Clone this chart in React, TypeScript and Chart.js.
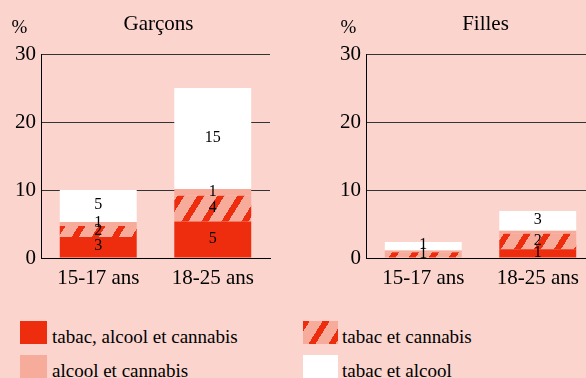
import React, { useEffect, useRef } from 'react';
import { Chart, registerables } from 'chart.js';

Chart.register(...registerables);

const categories = ['15-17 ans', '18-25 ans'];
const seriesNames = ['tabac, alcool et cannabis', 'tabac et cannabis', 'alcool et cannabis', 'tabac et alcool'];
const yTicks = [0, 10, 20, 30];

const garconsTabacAlcoolCannabis = [3.1, 5.35];
const garconsTabacCannabis = [1.6, 3.8];
const garconsAlcoolCannabis = [0.6, 1.0];
const garconsTabacAlcool = [4.7, 14.85];

const fillesTabacAlcoolCannabis = [0, 1.3];
const fillesTabacCannabis = [0.85, 2.25];
const fillesAlcoolCannabis = [0.25, 0.45];
const fillesTabacAlcool = [1.25, 2.9];

const BG = '#FAD4CD';
const RED = '#EE2D0F';
const PINK = '#F7AB9B';
const WHITE = '#FFFFFF';
const FONT = '"Liberation Serif", "Times New Roman", serif';

function makeHatchCanvas(): HTMLCanvasElement {
  const c = document.createElement('canvas');
  const W = 20, H = 32;
  c.width = W; c.height = H;
  const ctx = c.getContext('2d')!;
  ctx.fillStyle = PINK;
  ctx.fillRect(0, 0, W, H);
  ctx.fillStyle = RED;
  for (let y = 0; y < H; y++) {
    const x0 = Math.round((H - 1 - y) / 1.6);
    for (let dx = 0; dx < 7; dx++) {
      ctx.fillRect((x0 + dx) % W, y, 1, 1);
    }
  }
  return c;
}

const segLabels = {
  id: 'segLabels',
  afterDatasetsDraw(chart: any) {
    const ctx = chart.ctx;
    ctx.save();
    ctx.font = `16px ${FONT}`;
    ctx.fillStyle = '#000';
    ctx.textAlign = 'center';
    ctx.textBaseline = 'middle';
    chart.data.datasets.forEach((ds: any, i: number) => {
      const meta = chart.getDatasetMeta(i);
      meta.data.forEach((bar: any, j: number) => {
        const r = Math.round(ds.data[j]);
        if (!r) return;
        const p = bar.getProps(['x', 'y', 'base'], true);
        ctx.fillText(String(r), p.x, (p.y + p.base) / 2 - 1);
      });
    });
    ctx.restore();
  },
};

const panelText = {
  id: 'panelText',
  afterDraw(chart: any, _args: any, opts: any) {
    const ctx = chart.ctx;
    const a = chart.chartArea;
    ctx.save();
    ctx.fillStyle = '#000';
    ctx.textBaseline = 'alphabetic';
    ctx.textAlign = 'center';
    ctx.font = `21px ${FONT}`;
    ctx.fillText(opts.title, (a.left + a.right) / 2 + opts.titleShift, 30);
    ctx.font = `19px ${FONT}`;
    ctx.fillText('%', a.left - opts.pctOffset, 33);
    ctx.restore();
  },
};

function buildChart(canvas: HTMLCanvasElement, hatch: CanvasPattern, vals: number[][], title: string, axisWidth: number, padRight: number, pctOffset: number, titleShift: number) {
  const colors: any[] = [RED, hatch, PINK, WHITE];
  return new Chart(canvas, {
    type: 'bar',
    data: {
      labels: categories,
      datasets: vals.map((v, i) => ({
        label: seriesNames[i],
        data: v,
        backgroundColor: colors[i],
        borderWidth: 0,
        barPercentage: 0.672,
        categoryPercentage: 1,
      })),
    },
    options: {
      responsive: false,
      animation: false,
      devicePixelRatio: 1,
      layout: { padding: { top: 54, right: padRight, left: 0, bottom: 0 } },
      plugins: {
        legend: { display: false },
        tooltip: { enabled: false },
        title: { display: false },
        panelText: { title, pctOffset, titleShift },
      } as any,
      scales: {
        x: {
          stacked: true,
          grid: { display: false, drawTicks: false },
          border: { color: '#000', width: 1 },
          ticks: { font: { family: FONT, size: 21 }, color: '#000', padding: 8, maxRotation: 0, autoSkip: false },
          afterFit: (s: any) => { s.height = 32; },
        },
        y: {
          stacked: true,
          min: 0,
          max: 30,
          afterBuildTicks: (s: any) => { s.ticks = yTicks.map((v) => ({ value: v })); },
          grid: { color: '#333', drawTicks: false, lineWidth: 1 },
          border: { color: '#000', width: 1 },
          ticks: { font: { family: FONT, size: 21 }, color: '#000', padding: 5 },
          afterFit: (s: any) => { s.width = axisWidth; },
        },
      },
    } as any,
    plugins: [segLabels, panelText],
  });
}

export default function App() {
  const leftRef = useRef<HTMLCanvasElement>(null);
  const rightRef = useRef<HTMLCanvasElement>(null);
  const swatchRef = useRef<HTMLDivElement>(null);

  useEffect(() => {
    document.body.style.margin = '0';
    const hc = makeHatchCanvas();
    const pat = leftRef.current!.getContext('2d')!.createPattern(hc, 'repeat')!;
    const pat2 = rightRef.current!.getContext('2d')!.createPattern(hc, 'repeat')!;
    if (swatchRef.current) swatchRef.current.style.backgroundImage = `url(${hc.toDataURL()})`;
    const c1 = buildChart(leftRef.current!, pat, [garconsTabacAlcoolCannabis, garconsTabacCannabis, garconsAlcoolCannabis, garconsTabacAlcool], 'Garçons', 41, 20, 21.5, 3);
    const c2 = buildChart(rightRef.current!, pat2, [fillesTabacAlcoolCannabis, fillesTabacCannabis, fillesAlcoolCannabis, fillesTabacAlcool], 'Filles', 76, 15, 17.5, 5);
    return () => { c1.destroy(); c2.destroy(); };
  }, []);

  const text: React.CSSProperties = { position: 'absolute', fontFamily: FONT, fontSize: 19, lineHeight: '19px', color: '#000', whiteSpace: 'nowrap' };
  const sw: React.CSSProperties = { position: 'absolute', height: 23 };

  return (
    <div style={{ position: 'fixed', left: 0, top: 0, width: 586, height: 378, overflow: 'hidden', background: BG }}>
      <canvas ref={leftRef} width={290} height={290} style={{ position: 'absolute', left: 0, top: 0, width: 290, height: 290 }} />
      <canvas ref={rightRef} width={320} height={290} style={{ position: 'absolute', left: 290, top: 0, width: 320, height: 290 }} />
      <div style={{ ...sw, left: 20, top: 321, width: 27, background: RED }} />
      <div style={{ ...text, left: 52, top: 327 }}>{seriesNames[0]}</div>
      <div style={{ ...sw, left: 20, top: 355, width: 27, background: PINK }} />
      <div style={{ ...text, left: 52, top: 361 }}>{seriesNames[2]}</div>
      <div ref={swatchRef} style={{ ...sw, left: 303, top: 321, width: 35, backgroundColor: PINK }} />
      <div style={{ ...text, left: 342, top: 327 }}>{seriesNames[1]}</div>
      <div style={{ ...sw, left: 303, top: 355, width: 35, background: WHITE }} />
      <div style={{ ...text, left: 342, top: 361 }}>{seriesNames[3]}</div>
    </div>
  );
}
